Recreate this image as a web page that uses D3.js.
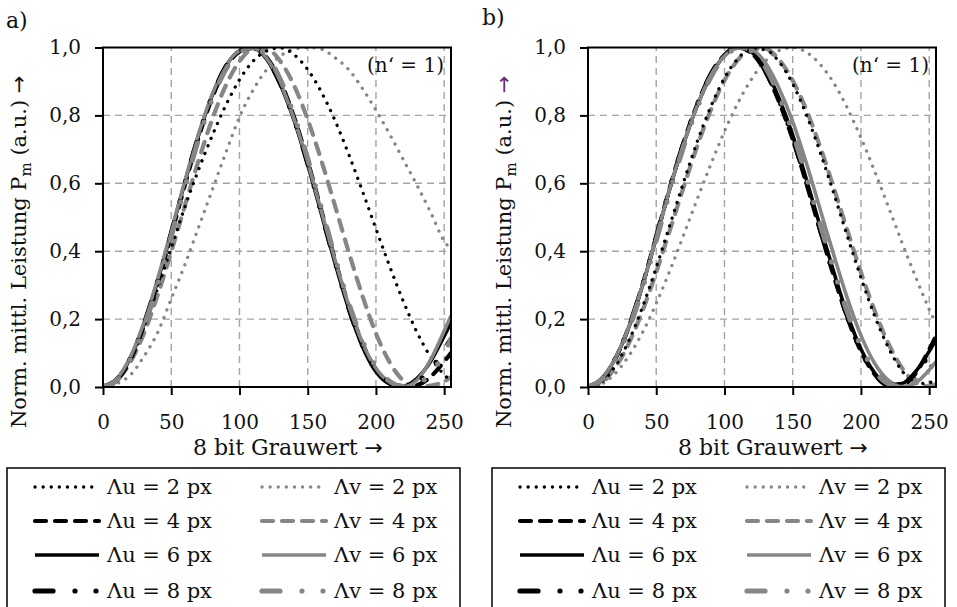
<!DOCTYPE html>
<html><head><meta charset="utf-8">
<script src="https://cdn.jsdelivr.net/npm/d3@7"></script>
<style>
body{margin:0;background:#fff;}
svg{display:block;}
text{font-family:"DejaVu Serif","Liberation Serif",serif;fill:#111;}
.arrow{font-family:"DejaVu Sans",sans-serif;}
</style>
</head><body>
<svg id="chart" width="957" height="607"></svg>
<script>
// ---------- DATA ----------
const X_VALUES = [0,10,20,30,40,50,60,70,80,90,100,110,120,130,140,150,160,170,180,190,200,210,220,230,240,250,255];
const Y_TICKS = [0,0.2,0.4,0.6,0.8,1.0];
const X_TICKS = [0,50,100,150,200,250];
const SERIES_KEYS = ["u2","u4","u6","u8","v2","v4","v6","v8"];
const SERIES_LABELS = ["Λu = 2 px","Λu = 4 px","Λu = 6 px","Λu = 8 px","Λv = 2 px","Λv = 4 px","Λv = 6 px","Λv = 8 px"];
const PANEL_LABELS = ["a)","b)"];
const ANNOTATION = "(n‘ = 1)";
const X_TITLE = "8 bit Grauwert";
const Y_TITLE_MAIN = "Norm. mittl. Leistung P";
const Y_TITLE_SUB = "m";
const Y_TITLE_UNIT = " (a.u.) ";

// panel a)
const A_U2 = [0,0.022,0.083,0.175,0.29,0.41,0.53,0.64,0.74,0.83,0.905,0.96,0.99,0.999,0.979,0.935,0.869,0.785,0.686,0.578,0.466,0.356,0.253,0.162,0.089,0.036,0.018];
const A_U4 = [0,0.02,0.08,0.18,0.305,0.448,0.595,0.735,0.852,0.94,0.988,0.999,0.97,0.9,0.795,0.665,0.52,0.375,0.24,0.13,0.052,0.012,0.0,0.005,0.03,0.075,0.1];
const A_U6 = [0,0.022,0.085,0.185,0.312,0.456,0.603,0.741,0.859,0.945,0.99,0.998,0.965,0.89,0.785,0.655,0.51,0.365,0.23,0.12,0.045,0.01,0.003,0.025,0.075,0.15,0.19];
const A_U8 = [0,0.021,0.082,0.182,0.308,0.45,0.598,0.737,0.855,0.942,0.989,0.999,0.968,0.895,0.79,0.66,0.515,0.37,0.235,0.125,0.05,0.012,0.001,0.015,0.05,0.11,0.14];
const A_V2 = [0,0.01,0.035,0.09,0.16,0.26,0.36,0.47,0.58,0.69,0.795,0.875,0.935,0.975,0.995,1.0,0.995,0.97,0.935,0.88,0.815,0.745,0.67,0.595,0.515,0.43,0.405];
const A_V4 = [0,0.019,0.073,0.158,0.27,0.398,0.534,0.667,0.788,0.888,0.959,0.995,0.995,0.959,0.888,0.788,0.667,0.534,0.398,0.27,0.158,0.073,0.019,0.0,0.004,0.016,0.03];
const A_V6 = [0,0.024,0.088,0.19,0.318,0.46,0.607,0.745,0.862,0.946,0.99,0.998,0.968,0.895,0.79,0.662,0.518,0.375,0.242,0.132,0.055,0.014,0.001,0.02,0.08,0.165,0.21];
const A_V8 = [0,0.02,0.08,0.178,0.302,0.445,0.59,0.73,0.848,0.936,0.985,0.999,0.975,0.905,0.8,0.672,0.528,0.382,0.248,0.138,0.06,0.017,0.001,0.008,0.04,0.1,0.14];

// panel b)
const B_U2 = [0,0.015,0.062,0.137,0.236,0.352,0.477,0.603,0.722,0.826,0.91,0.968,0.997,0.993,0.958,0.893,0.802,0.693,0.572,0.445,0.322,0.21,0.117,0.048,0.01,0.012,0.03];
const B_U4 = [0,0.023,0.083,0.178,0.302,0.443,0.588,0.72,0.832,0.921,0.978,1.0,0.983,0.928,0.84,0.73,0.6,0.462,0.328,0.205,0.105,0.038,0.005,0.006,0.04,0.11,0.15];
const B_U6 = [0,0.024,0.084,0.177,0.3,0.44,0.585,0.715,0.828,0.918,0.976,1.0,0.986,0.935,0.85,0.742,0.612,0.474,0.34,0.214,0.112,0.042,0.007,0.01,0.045,0.105,0.14];
const B_U8 = [0,0.022,0.082,0.176,0.298,0.44,0.585,0.716,0.83,0.92,0.977,1.0,0.985,0.932,0.846,0.736,0.606,0.468,0.334,0.21,0.108,0.04,0.006,0.004,0.035,0.1,0.14];
const B_V2 = [0,0.009,0.04,0.092,0.161,0.246,0.343,0.447,0.553,0.656,0.753,0.838,0.908,0.96,0.991,1.0,0.986,0.951,0.896,0.822,0.734,0.636,0.532,0.426,0.325,0.229,0.186];
const B_V4 = [0,0.013,0.057,0.129,0.225,0.338,0.462,0.588,0.709,0.816,0.903,0.964,0.996,0.996,0.964,0.903,0.816,0.709,0.588,0.462,0.338,0.225,0.129,0.057,0.013,0.002,0.008];
const B_V6 = [0,0.024,0.085,0.178,0.3,0.44,0.585,0.715,0.828,0.918,0.975,0.998,0.993,0.955,0.88,0.782,0.66,0.525,0.39,0.262,0.152,0.07,0.02,0.001,0.012,0.05,0.075];
const B_V8 = [0,0.022,0.08,0.172,0.292,0.432,0.576,0.708,0.822,0.913,0.972,0.998,0.99,0.942,0.858,0.75,0.62,0.482,0.348,0.222,0.12,0.048,0.01,0.001,0.02,0.055,0.075];

// ---------- STYLES / LAYOUT ----------
const GRAY = "#868686";
const STYLES = {
  u2:{color:"#000", width:3.3, dash:"0.1,8"},
  u4:{color:"#000", width:4.2, dash:"11,9"},
  u6:{color:"#000", width:3.6, dash:null},
  u8:{color:"#000", width:5.2, dash:"18,22,0,21,0,22"},
  v2:{color:GRAY, width:3.3, dash:"0.1,8"},
  v4:{color:GRAY, width:4.2, dash:"11,9"},
  v6:{color:GRAY, width:3.6, dash:null},
  v8:{color:GRAY, width:5.2, dash:"18,22,0,21,0,22"}
};
const DRAW_ORDER = ["v2","v4","u2","u4","u6","v6","u8","v8"];

const PANELS = [
  {id:"a", left:103, right:451, top:47.5, bottom:387, titleX:26, arrowColor:"#111", labelX:6, labelY:28, legendX:7,
   data:{u2:A_U2,u4:A_U4,u6:A_U6,u8:A_U8,v2:A_V2,v4:A_V4,v6:A_V6,v8:A_V8}},
  {id:"b", left:588, right:936, top:47.5, bottom:387, titleX:511, arrowColor:"#6a2a6a", labelX:482, labelY:25, legendX:492,
   data:{u2:B_U2,u4:B_U4,u6:B_U6,u8:B_U8,v2:B_V2,v4:B_V4,v6:B_V6,v8:B_V8}}
];

const svg = d3.select("#chart");
const defs = svg.append("defs");

function styleLine(sel, key){
  const s = STYLES[key];
  sel.attr("fill","none").attr("stroke",s.color).attr("stroke-width",s.width)
     .attr("stroke-linecap", s.dash ? "round" : "butt").attr("stroke-linejoin","round");
  if (s.dash) sel.attr("stroke-dasharray", s.dash);
}

PANELS.forEach((p, pi) => {
  const g = svg.append("g");
  const x = d3.scaleLinear().domain([0,255]).range([p.left, p.right]);
  const y = d3.scaleLinear().domain([0,1]).range([p.bottom, p.top]);

  // grid
  g.selectAll(".vg").data(X_TICKS.filter(d => d > 0)).enter().append("line")
    .attr("x1", d => x(d)).attr("x2", d => x(d)).attr("y1", y(0)).attr("y2", y(1))
    .attr("stroke","#a4a4a4").attr("stroke-width",1.4).attr("stroke-dasharray","7,5");
  g.selectAll(".hg").data(Y_TICKS.filter(d => d > 0 && d < 1)).enter().append("line")
    .attr("x1", x(0)).attr("x2", x(255)).attr("y1", d => y(d)).attr("y2", d => y(d))
    .attr("stroke","#a4a4a4").attr("stroke-width",1.4).attr("stroke-dasharray","7,5");

  // clip
  const clipId = "clip-" + p.id;
  defs.append("clipPath").attr("id", clipId).append("rect")
    .attr("x", p.left).attr("y", p.top).attr("width", p.right - p.left).attr("height", p.bottom - p.top);

  const line = d3.line().x((d,i) => x(X_VALUES[i])).y(d => y(d)).curve(d3.curveMonotoneX);
  DRAW_ORDER.forEach(k => {
    g.append("path").datum(p.data[k]).attr("d", line).attr("clip-path", `url(#${clipId})`).call(styleLine, k);
  });

  // frame
  g.append("rect").attr("x", p.left).attr("y", p.top).attr("width", p.right - p.left).attr("height", p.bottom - p.top)
    .attr("fill","none").attr("stroke","#000").attr("stroke-width",2);

  // axes
  const yAxis = d3.axisLeft(y).tickValues(Y_TICKS).tickSize(8).tickPadding(14)
    .tickFormat(d => d3.format(".1f")(d).replace(".", ","));
  const ya = g.append("g").attr("transform", `translate(${p.left},0)`).call(yAxis);
  const xAxis = d3.axisBottom(x).tickValues(X_TICKS).tickSize(8).tickPadding(20).tickFormat(d3.format("d"));
  const xa = g.append("g").attr("transform", `translate(0,${p.bottom})`).call(xAxis);
  [ya, xa].forEach(a => {
    a.select(".domain").remove();
    a.selectAll(".tick line").attr("stroke","#000").attr("stroke-width",2);
    a.selectAll(".tick text").attr("font-size",20).attr("fill","#111")
      .style("font-family",'"DejaVu Serif","Liberation Serif",serif');
  });

  // x title
  const xt = g.append("text").attr("x", (p.left + p.right) / 2 + 11).attr("y", 455).attr("text-anchor","middle")
    .attr("font-size",22);
  xt.append("tspan").text(X_TITLE + " ");
  xt.append("tspan").attr("class","arrow").text("→");

  // y title (bottom-anchored, reads upward)
  const yt = g.append("text").attr("transform", `translate(${p.titleX},428) rotate(-90)`)
    .attr("text-anchor","start").attr("font-size",21);
  yt.append("tspan").text(Y_TITLE_MAIN);
  yt.append("tspan").attr("font-size",15).attr("dy",5).text(Y_TITLE_SUB);
  yt.append("tspan").attr("dy",-5).text(Y_TITLE_UNIT);
  yt.append("tspan").attr("class","arrow").attr("fill", p.arrowColor).text("→");

  // panel label
  g.append("text").attr("x", p.labelX).attr("y", p.labelY).attr("font-size",22).text(PANEL_LABELS[pi]);

  // annotation
  g.append("text").attr("x", p.right - 7).attr("y", 72).attr("text-anchor","end").attr("font-size",20).text(ANNOTATION);

  // legend
  const lx = p.legendX;
  g.append("rect").attr("x", lx).attr("y", 468).attr("width", 453).attr("height", 160)
    .attr("fill","none").attr("stroke","#000").attr("stroke-width",1.5);
  const rowY = [487, 521, 555, 591];
  SERIES_KEYS.forEach((k, i) => {
    const col = i < 4 ? 0 : 1;
    const row = i % 4;
    const sx = lx + (col === 0 ? 26 : 253);
    g.append("line").attr("x1", sx + 2).attr("x2", sx + 66).attr("y1", rowY[row]).attr("y2", rowY[row]).call(styleLine, k);
    g.append("text").attr("x", sx + 74).attr("y", rowY[row] + 7).attr("font-size",21).text(SERIES_LABELS[i]);
  });
});
</script>
</body></html>
